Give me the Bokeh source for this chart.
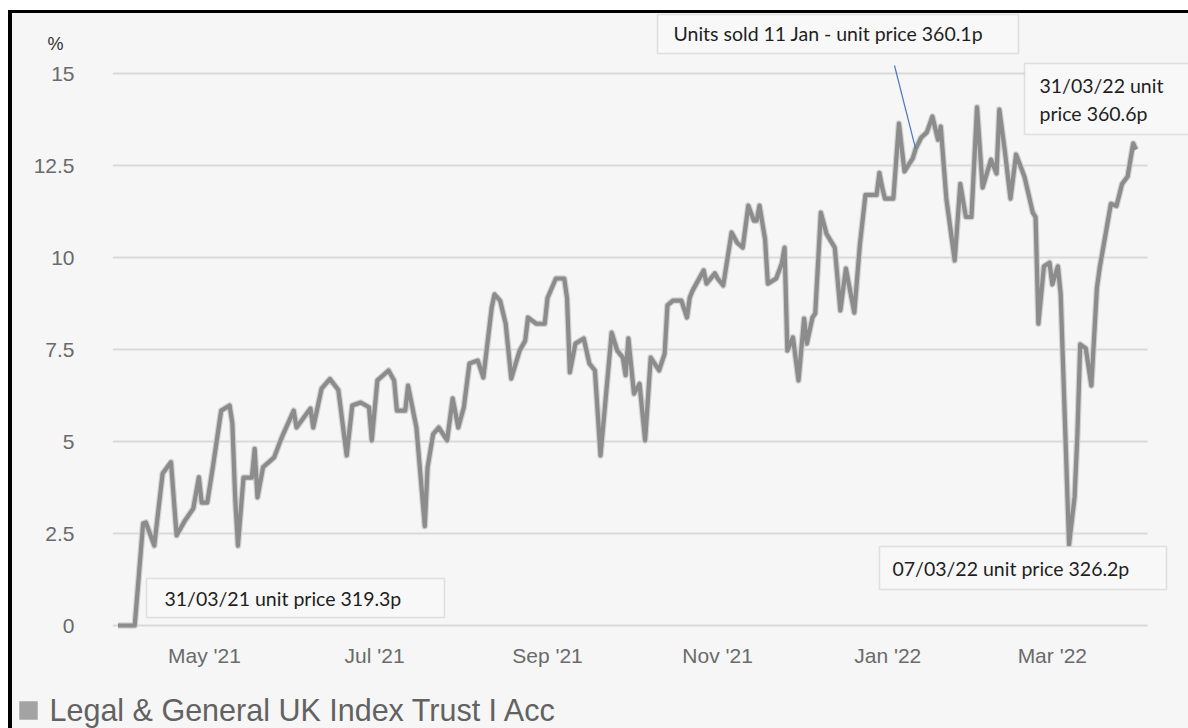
import datetime as dt
import pandas as pd
from bokeh.plotting import figure
from bokeh.layouts import column
from bokeh.models import (Range1d, FixedTicker, BoxAnnotation, Label, Arrow,
                          ColumnDataSource, DatetimeTickFormatter)
from bokeh.embed import file_html
from bokeh.resources import INLINE

# ---------------- data ----------------
dates = [
    "2021-03-31", "2021-04-06", "2021-04-09", "2021-04-10", "2021-04-13", "2021-04-16",
    "2021-04-19", "2021-04-21", "2021-04-24", "2021-04-27", "2021-04-29", "2021-04-30",
    "2021-05-02", "2021-05-04", "2021-05-07", "2021-05-10", "2021-05-11", "2021-05-12",
    "2021-05-13", "2021-05-15", "2021-05-18", "2021-05-19", "2021-05-20", "2021-05-22",
    "2021-05-26", "2021-05-28", "2021-05-29", "2021-06-02", "2021-06-03", "2021-06-08",
    "2021-06-09", "2021-06-12", "2021-06-15", "2021-06-18", "2021-06-21", "2021-06-23",
    "2021-06-26", "2021-06-29", "2021-06-30", "2021-07-02", "2021-07-06", "2021-07-08",
    "2021-07-09", "2021-07-12", "2021-07-13", "2021-07-16", "2021-07-19", "2021-07-20",
    "2021-07-22", "2021-07-24", "2021-07-27", "2021-07-29", "2021-07-31", "2021-08-02",
    "2021-08-04", "2021-08-07", "2021-08-09", "2021-08-12", "2021-08-13", "2021-08-15",
    "2021-08-17", "2021-08-19", "2021-08-22", "2021-08-24", "2021-08-25", "2021-08-28",
    "2021-08-31", "2021-09-01", "2021-09-04", "2021-09-07", "2021-09-08", "2021-09-09",
    "2021-09-11", "2021-09-14", "2021-09-16", "2021-09-18", "2021-09-20", "2021-09-24",
    "2021-09-26", "2021-09-28", "2021-09-29", "2021-09-30", "2021-10-02", "2021-10-04",
    "2021-10-06", "2021-10-08", "2021-10-11", "2021-10-13", "2021-10-14", "2021-10-16",
    "2021-10-19", "2021-10-21", "2021-10-22", "2021-10-23", "2021-10-27", "2021-10-28",
    "2021-10-31", "2021-11-01", "2021-11-03", "2021-11-06", "2021-11-08", "2021-11-10",
    "2021-11-12", "2021-11-14", "2021-11-15", "2021-11-16", "2021-11-18", "2021-11-19",
    "2021-11-22", "2021-11-24", "2021-11-25", "2021-11-26", "2021-11-28", "2021-11-30",
    "2021-12-02", "2021-12-03", "2021-12-05", "2021-12-06", "2021-12-08", "2021-12-10",
    "2021-12-13", "2021-12-15", "2021-12-17", "2021-12-20", "2021-12-22", "2021-12-24",
    "2021-12-28", "2021-12-29", "2021-12-30", "2021-12-31", "2022-01-03", "2022-01-05",
    "2022-01-07", "2022-01-10", "2022-01-11", "2022-01-13", "2022-01-15", "2022-01-17",
    "2022-01-19", "2022-01-20", "2022-01-22", "2022-01-25", "2022-01-27", "2022-01-29",
    "2022-01-31", "2022-02-02", "2022-02-04", "2022-02-07", "2022-02-09", "2022-02-10",
    "2022-02-12", "2022-02-14", "2022-02-16", "2022-02-19", "2022-02-22", "2022-02-23",
    "2022-02-24", "2022-02-26", "2022-02-28", "2022-03-01", "2022-03-03", "2022-03-04",
    "2022-03-07", "2022-03-09", "2022-03-10", "2022-03-11", "2022-03-13", "2022-03-15",
    "2022-03-17", "2022-03-18", "2022-03-19", "2022-03-22", "2022-03-24", "2022-03-26",
    "2022-03-28", "2022-03-30", "2022-03-31",
]
pct = [
    0.0, 0.0, 2.77, 2.8, 2.17, 4.13,
    4.44, 2.45, 2.85, 3.18, 4.03, 3.34,
    3.34, 4.3, 5.84, 5.98, 5.5, 3.48,
    2.17, 4.02, 4.02, 4.8, 3.48, 4.3,
    4.57, 4.97, 5.16, 5.84, 5.38, 5.9,
    5.38, 6.44, 6.7, 6.4, 4.62, 5.98,
    6.06, 5.93, 5.03, 6.66, 6.93, 6.66,
    5.84, 5.84, 6.52, 5.38, 2.7, 4.3,
    5.2, 5.38, 5.03, 6.17, 5.38, 5.93,
    7.12, 7.2, 6.74, 8.64, 9.0, 8.83,
    8.2, 6.71, 7.47, 7.74, 8.37, 8.2,
    8.2, 8.9, 9.43, 9.43, 8.9, 6.88,
    7.66, 7.8, 7.12, 6.93, 4.62, 7.96,
    7.47, 7.28, 6.8, 7.8, 6.3, 6.57,
    5.03, 7.28, 6.93, 7.39, 8.7, 8.83,
    8.83, 8.37, 8.91, 9.1, 9.65, 9.29,
    9.57, 9.43, 9.24, 10.68, 10.4, 10.27,
    11.41, 11.0, 11.0, 11.41, 10.5, 9.29,
    9.43, 9.84, 10.27, 7.47, 7.83, 6.66,
    8.34, 7.66, 8.37, 8.48, 11.22, 10.65,
    10.27, 8.56, 9.7, 8.5, 10.35, 11.7,
    11.7, 12.3, 11.9, 11.6, 11.6, 13.64,
    12.34, 12.7, 12.95, 13.26, 13.4, 13.83,
    13.2, 13.56, 11.6, 9.92, 12.0, 11.1,
    11.1, 14.08, 11.9, 12.66, 12.28, 14.02,
    12.88, 11.6, 12.8, 12.2, 11.22, 11.1,
    8.2, 9.76, 9.86, 9.27, 9.76, 9.0,
    2.2, 3.5, 5.2, 7.64, 7.53, 6.52,
    9.18, 9.73, 10.16, 11.46, 11.4, 12.0,
    12.2, 13.1, 12.93,
]
series_name = "Legal & General UK Index Trust I Acc"
y_axis_unit = "%"

y_ticks = [0, 2.5, 5, 7.5, 10, 12.5, 15]
y_tick_labels = ["0", "2.5", "5", "7.5", "10", "12.5", "15"]
x_tick_dates = ["2021-05-01", "2021-07-01", "2021-09-01", "2021-11-01", "2022-01-01", "2022-03-01"]
x_tick_labels = ["May '21", "Jul '21", "Sep '21", "Nov '21", "Jan '22", "Mar '22"]

note_sold_text = "Units sold 11 Jan - unit price 360.1p"
note_sold_date = "2022-01-11"
note_sold_value = 12.95
note_end_lines = ["31/03/22 unit", "price 360.6p"]
note_low_text = "07/03/22 unit price 326.2p"
note_start_text = "31/03/21 unit price 319.3p"

# ---------------- layout constants (page px) ----------------
W, H = 1188, 728
OX, OY = 12, 13            # content origin (inside black border)
FL, FR, FT, FB = 112, 1188, 58, 632   # main frame edges on page
LEG_TOP = 680
BG = "#f6f6f6"
NOTE_FONT = "Lato"
NOTE_SIZE = "19.5px"


def sx(cx):
    return cx - FL


def sy(cy):
    return FB - cy


def no_align(f):
    if "frame_align" in f.properties():
        f.frame_align = False
    return f


def blank_fig(top, bottom):
    f = figure(width=W - OX, height=bottom - top, output_backend="svg",
               toolbar_location=None, x_axis_location=None, y_axis_location=None,
               min_border_left=0, min_border_right=0, min_border_top=0, min_border_bottom=0,
               x_range=Range1d(OX, W), y_range=Range1d(bottom, top))
    f.background_fill_color = BG
    f.border_fill_color = BG
    f.outline_line_color = None
    f.grid.visible = False
    return no_align(f)


def box(f, l, r, t, b, units="data"):
    kw = {}
    if units == "screen":
        l, r, t, b = sx(l), sx(r), sy(t), sy(b)
        kw = dict(left_units="screen", right_units="screen",
                  top_units="screen", bottom_units="screen")
    f.add_layout(BoxAnnotation(left=l, right=r, top=t, bottom=b, fill_color="#f8f8f8",
                               fill_alpha=1, line_color="#a9a9a9", line_width=1.5,
                               level="overlay", **kw))


def text(f, cx, cy, txt, units="data"):
    kw = {}
    if units == "screen":
        cx, cy = sx(cx), sy(cy)
        kw = dict(x_units="screen", y_units="screen")
    f.add_layout(Label(x=cx, y=cy, text=txt, text_font=NOTE_FONT, text_font_size=NOTE_SIZE,
                       text_color="#1e1e1e", text_baseline="middle", level="overlay", **kw))


# ---------------- header (unit label + sale note) ----------------
head = blank_fig(OY, FT)
head.add_layout(Label(x=47, y=43, text=y_axis_unit, text_font="Liberation Sans",
                      text_font_size="18px", text_color="#333333", text_baseline="middle"))
box(head, 657, 1018, 14, 53)
text(head, 673, 33, note_sold_text)

# ---------------- main chart ----------------
x = pd.to_datetime(dates)
src = ColumnDataSource(dict(x=x, y=pct))
day0 = dt.datetime(2021, 3, 31)
px_per_day = 2.789
y0_px, px_per_unit = 625.0, 36.8

p = figure(width=W - OX, height=LEG_TOP - FT, x_axis_type="datetime", output_backend="svg",
           toolbar_location=None,
           min_border_left=FL - OX, min_border_right=W - FR,
           min_border_top=0, min_border_bottom=LEG_TOP - FB,
           x_range=Range1d(day0 + dt.timedelta(days=(FL - 117.5) / px_per_day),
                           day0 + dt.timedelta(days=(FR - 117.5) / px_per_day)),
           y_range=Range1d((y0_px - FB) / px_per_unit, (y0_px - FT) / px_per_unit))
no_align(p)
p.background_fill_color = BG
p.border_fill_color = BG
p.outline_line_color = None

tick_ms = [pd.Timestamp(d).value / 1e6 for d in x_tick_dates]
p.xaxis.ticker = FixedTicker(ticks=tick_ms)
p.xaxis.formatter = DatetimeTickFormatter(months="%b '%y", days="%b '%y", years="%b '%y")
p.xaxis.major_label_overrides = {t: l for t, l in zip(tick_ms, x_tick_labels)}
p.yaxis.ticker = FixedTicker(ticks=y_ticks)
p.yaxis.major_label_overrides = {t: l for t, l in zip(y_ticks, y_tick_labels)}
for ax in (p.xaxis[0], p.yaxis[0]):
    ax.axis_line_color = None
    ax.major_tick_line_color = None
    ax.minor_tick_line_color = None
    ax.major_label_text_font = "Liberation Sans"
    ax.major_label_text_font_size = "21px"
    ax.major_label_text_color = "#6a6a6a"
p.yaxis.major_label_standoff = 32
p.xaxis.major_label_standoff = 5

p.xgrid.grid_line_color = None
p.ygrid.ticker = FixedTicker(ticks=y_ticks)
p.ygrid.grid_line_color = "#d9d9d9"
p.ygrid.grid_line_width = 2
# gridlines stop short of the right edge
p.add_layout(BoxAnnotation(left=sx(1147), right=sx(1200), top=sy(FT - 5), bottom=sy(FB + 5),
                           left_units="screen", right_units="screen",
                           top_units="screen", bottom_units="screen",
                           fill_color=BG, fill_alpha=1, line_color=None, level="underlay"))

p.line("x", "y", source=src, line_color="#d2d2d2", line_width=6.5, line_join="round")
p.line("x", "y", source=src, line_color="#8c8c8c", line_width=4.2, line_join="round")

p.add_layout(Arrow(x_start=sx(894), y_start=sy(65), start_units="screen",
                   x_end=pd.Timestamp(note_sold_date).value / 1e6, y_end=note_sold_value,
                   end_units="data", end=None, line_color="#4a78c8", line_width=1.2))

box(p, 1024, 1195, 63, 134, units="screen")
text(p, 1039, 85, note_end_lines[0], units="screen")
text(p, 1039, 113, note_end_lines[1], units="screen")
box(p, 879, 1166, 546, 589, units="screen")
text(p, 892, 568, note_low_text, units="screen")
box(p, 146, 444, 578, 617, units="screen")
text(p, 164, 598, note_start_text, units="screen")

# ---------------- legend strip ----------------
leg = blank_fig(LEG_TOP, H)
leg.add_layout(BoxAnnotation(left=19, right=37, top=701, bottom=719, fill_color="#a3a3a3",
                             fill_alpha=1, line_color="#8a8a8a", line_width=1))
leg.add_layout(Label(x=49, y=709, text=series_name, text_font="Liberation Sans",
                     text_font_size="30.5px", text_color="#626262", text_baseline="middle"))

layout = column(head, p, leg, spacing=0,
                styles={"margin-left": "8px", "margin-top": "10px",
                        "border-left": "4px solid #000000", "border-top": "3px solid #000000",
                        "background-color": BG})

open("out.html", "w").write(file_html(layout, INLINE))
